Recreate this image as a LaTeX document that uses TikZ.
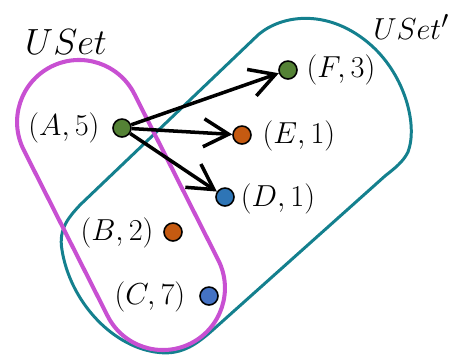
\documentclass[tikz,border=0pt]{standalone}
\usepackage{amsmath}
\usepackage{tikz}
\usetikzlibrary{positioning,arrows.meta}

\definecolor{setpink}{RGB}{200,80,210}
\definecolor{setteal}{RGB}{20,128,142}
\definecolor{dotgreen}{RGB}{84,130,53}
\definecolor{dotorange}{RGB}{197,90,17}
\definecolor{dotblue}{RGB}{46,117,182}
\definecolor{dotlblue}{RGB}{68,114,196}

\begin{document}
\begin{tikzpicture}[
    x=0.02cm, y=-0.02cm,
    font=\fontsize{16.5}{19}\selectfont,
    elem/.style={circle, draw=black, line width=0.9pt, minimum size=0.36cm, inner sep=0pt},
    lab/.style={inner sep=1pt},
    setname/.style={font=\fontsize{20}{23}\selectfont, inner sep=0pt},
    edge/.style={line width=2pt, -{Straight Barb[length=5mm, width=5.6mm, line width=2pt]}},
  ]
  \useasboundingbox (0,0) rectangle (454,356);

  % the two sets
  \draw[setteal, line width=1.7pt]
    (80,205) -- (258,35)
    .. controls (282,14) and (330,8) .. (372,46)
    .. controls (405,76) and (418,125) .. (408,152)
    .. controls (403,162) and (395,168) .. (385,176)
    -- (215,328)
    .. controls (195,346) and (180,356) .. (155,352)
    .. controls (110,345) and (70,300) .. (62,250)
    .. controls (58,228) and (70,216) .. cycle;
  \draw[setpink, line width=2.3pt, rounded corners=1.24cm,
        rotate around={-63.2:(121,205)}]
    (-34,143) rectangle (276,267);

  \node[setname] (uset) at (66,42) {$USet$};
  \node[setname, font=\fontsize{19}{22}\selectfont, anchor=west]
    (uset2) at (373,27) {$USet'$};

  % elements
  \node[elem, fill=dotgreen] (a) at (122,128) {};
  \node[elem, fill=dotgreen] (f) at (288,70) {};
  \node[elem, fill=dotorange] (e) at (242,135) {};
  \node[elem, fill=dotblue] (d) at (225,197) {};
  \node[elem, fill=dotorange] (b) at (173,232) {};
  \node[elem, fill=dotlblue] (c) at (209,296) {};

  \node[lab] (la) at (64,128) {$(A,5)$};
  \node[lab] (lf) at (341,70) {$(F,3)$};
  \node[lab] (le) at (299,136) {$(E,1)$};
  \node[lab] (ld) at (278,199) {$(D,1)$};
  \node[lab] (lb) at (117,233) {$(B,2)$};
  \node[lab] (lc) at (150,297) {$(C,7)$};

  \draw[edge] (a) -- (f);
  \draw[edge] (a) -- (e);
  \draw[edge] (a) -- (d);
\end{tikzpicture}
\end{document}
